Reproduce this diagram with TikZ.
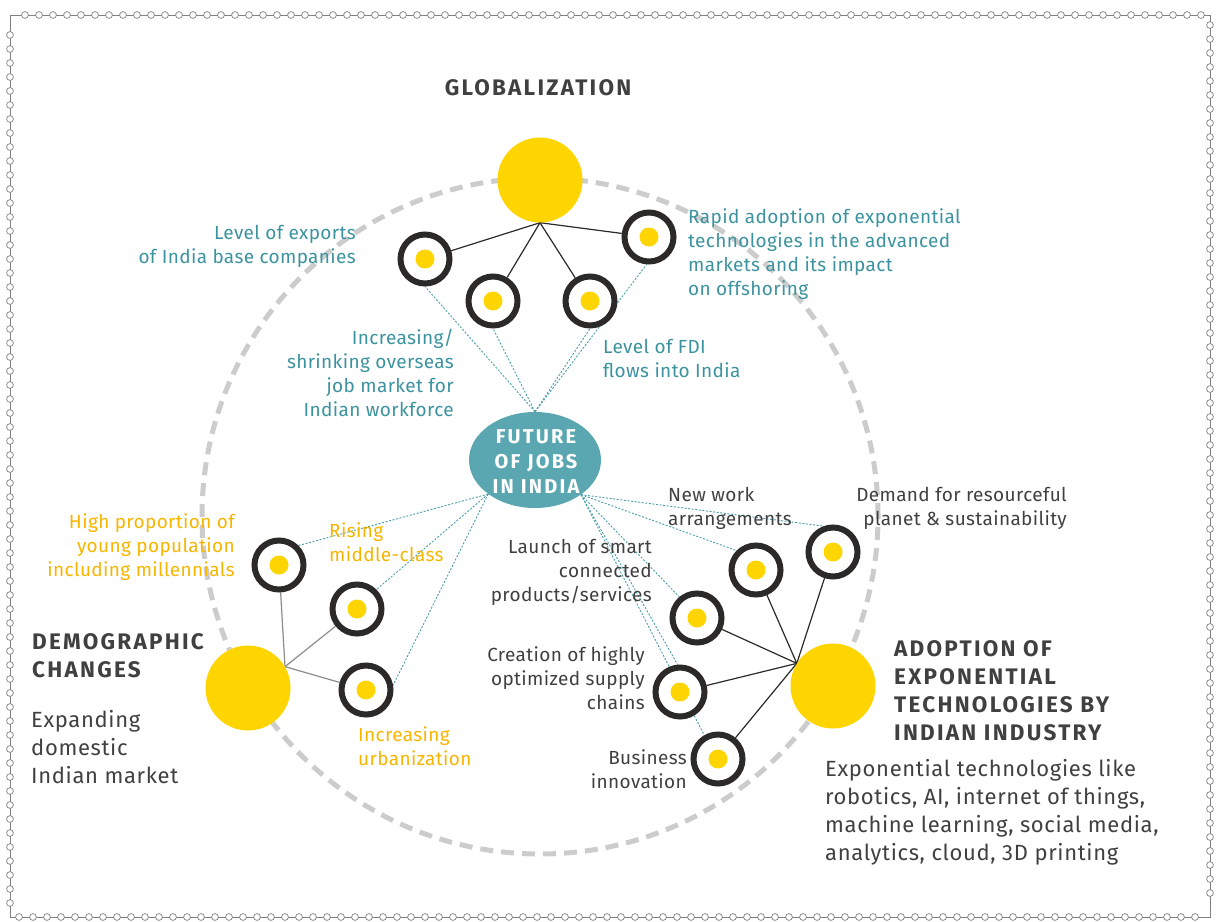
\documentclass[tikz,border=0pt]{standalone}
\usepackage{fontspec}
\setmainfont{Fira Sans}
\usetikzlibrary{shapes.geometric}
\definecolor{yel}{HTML}{FFD500}
\definecolor{tealfill}{HTML}{5AA7B2}
\definecolor{tealtxt}{HTML}{3B939F}
\definecolor{tealline}{HTML}{4A9EAA}
\definecolor{orgtxt}{HTML}{F8B500}
\definecolor{darktxt}{HTML}{404040}
\definecolor{ringc}{HTML}{2B2A29}
\definecolor{dashc}{HTML}{CCCCCC}
\definecolor{bordc}{HTML}{808080}
\pgfdeclarelayer{bg}
\pgfsetlayers{bg,main}
\begin{document}
\begin{tikzpicture}[x=1pt,y=-1pt,
  bigdot/.style={circle, fill=yel, minimum size=85pt, inner sep=0pt},
  ring/.style={circle, draw=ringc, line width=6pt, fill=white, minimum size=49pt, inner sep=0pt,
    path picture={\fill[yel] (path picture bounding box.center) circle[radius=9.5pt];}},
  blk/.style={draw=ringc, line width=1.2pt},
  gry/.style={draw=black!45, line width=1.2pt},
  dots/.style={draw=tealline, line width=0.9pt, dash pattern=on 2pt off 1.6pt},
  lbl/.style={font=\fontsize{19}{24}\selectfont\addfontfeatures{LetterSpace=2}, inner sep=0pt},
  tl/.style={lbl, text=tealtxt},
  ol/.style={lbl, text=orgtxt},
  dl/.style={lbl, text=darktxt},
  head/.style={font=\fontsize{22.5}{28}\selectfont\bfseries\addfontfeatures{LetterSpace=10}, text=darktxt, inner sep=0pt, align=left},
  desc/.style={font=\fontsize{22}{28}\selectfont\addfontfeatures{LetterSpace=3}, text=darktxt, inner sep=0pt, align=left},
  chain/.style={draw=bordc, fill=white, line width=0.7pt}
]
\useasboundingbox (0,0) rectangle (1217,921);
% border
\draw[bordc, line width=0.8pt] (10,15) rectangle (1210,917);
\foreach \x in {25,39,...,1201} \draw[chain] (\x,15) circle[radius=3.4pt];
\foreach \x in {19,33,...,1201} \draw[chain] (\x,917) circle[radius=3.4pt];
\foreach \y in {35,49,...,905} \draw[chain] (10,\y) circle[radius=3.4pt];
\foreach \y in {25,39,...,905} \draw[chain] (1210,\y) circle[radius=3.4pt];

% big yellow circles
\node[bigdot] (glob) at (540,180) {};
\node[bigdot] (demo) at (248,688) {};
\node[bigdot] (adopt) at (833,686) {};

% centre
\node[ellipse, fill=tealfill, minimum width=132pt, minimum height=96pt, inner sep=0pt] (fut) at (535,460) {};
\node[font=\fontsize{20}{25}\selectfont\bfseries\addfontfeatures{LetterSpace=11}, text=white, align=center, inner sep=0pt] (futt) at (536,462) {FUTURE\\OF JOBS\\IN INDIA};

% rings
\node[ring] (r1) at (425,259) {};
\node[ring] (r2) at (493,301) {};
\node[ring] (r3) at (590,301) {};
\node[ring] (r4) at (649,237) {};
\node[ring] (d1) at (279,565) {};
\node[ring] (d2) at (357,609) {};
\node[ring] (d3) at (366,690) {};
\node[ring] (a1) at (833,552) {};
\node[ring] (a2) at (756,570) {};
\node[ring] (a3) at (697,618) {};
\node[ring] (a4) at (680,692) {};
\node[ring] (a5) at (718,759) {};

\begin{pgfonlayer}{bg}
\draw[dashc, line width=5pt, dash pattern=on 13pt off 8pt] (540,516) circle[radius=338pt];
% solid connectors
\foreach \r in {r1,r2,r3,r4} \draw[blk] (glob.south) -- (\r);
\foreach \r in {d1,d2,d3} \draw[gry] (demo.30) -- (\r);
\foreach \r in {a1,a2,a3,a4,a5} \draw[blk] (adopt.148) -- (\r);
% dotted connectors
\draw[dots] (fut.north) -- (r1.south);
\draw[dots] (fut.north) -- (r2.south);
\draw[dots] (fut.north) -- (r3.south);
\draw[dots] (fut.north) -- (r4.265);
\draw[dots] (fut.216) -- (d1.45);
\draw[dots] (fut.216) -- (d2.45);
\draw[dots] (fut.216) -- (d3.10);
\draw[dots] (fut.323) -- (a1.110);
\draw[dots] (fut.323) -- (a2.135);
\draw[dots] (fut.323) -- (a3.130);
\draw[dots] (fut.323) -- (a4.95);
\draw[dots] (fut.323) -- (a5.120);
\end{pgfonlayer}

% headings
\node[head, anchor=center] (hglob) at (538,88) {GLOBALIZATION};
\node[head, anchor=north west] (hdemo) at (32,633) {DEMOGRAPHIC\\CHANGES};
\node[desc, anchor=north west] (ddemo) at (31,710) {Expanding\\domestic\\Indian market};
\node[head, anchor=north west] (hadopt) at (894,640) {ADOPTION OF\\EXPONENTIAL\\TECHNOLOGIES BY\\INDIAN INDUSTRY};
\node[desc, anchor=north west] (dadopt) at (825,759) {Exponential technologies like\\robotics, AI, internet of things,\\machine learning, social media,\\analytics, cloud, 3D printing};

% teal labels
\node[tl, align=right, anchor=north east] (l1) at (356,225) {Level of exports\\of India base companies};
\node[tl, align=left, anchor=north west] (l4) at (688,208) {Rapid adoption of exponential\\technologies in the advanced\\markets and its impact\\on offshoring};
\node[tl, align=right, anchor=north east] (l2) at (454,329) {Increasing/\\shrinking overseas\\job market for\\Indian workforce};
\node[tl, align=left, anchor=north west] (l3) at (603,339) {Level of FDI\\flows into India};

% orange labels
\node[ol, align=right, anchor=north east] (o1) at (235,513) {High proportion of\\young population\\including millennials};
\node[ol, align=left, anchor=north west] (o2) at (329,522) {Rising\\middle-class};
\node[ol, align=left, anchor=north west] (o3) at (358,726) {Increasing\\urbanization};

% dark labels
\node[dl, align=left, anchor=north west] (k2) at (668,487) {New work\\arrangements};
\node[dl, align=right, anchor=north east] (k1) at (1067,487) {Demand for resourceful\\planet \& sustainability};
\node[dl, align=right, anchor=north east] (k3) at (652,539) {Launch of smart\\connected\\products/services};
\node[dl, align=right, anchor=north east] (k4) at (645,646) {Creation of highly\\optimized supply\\chains};
\node[dl, align=right, anchor=north east] (k5) at (687,749) {Business\\innovation};
\end{tikzpicture}
\end{document}
